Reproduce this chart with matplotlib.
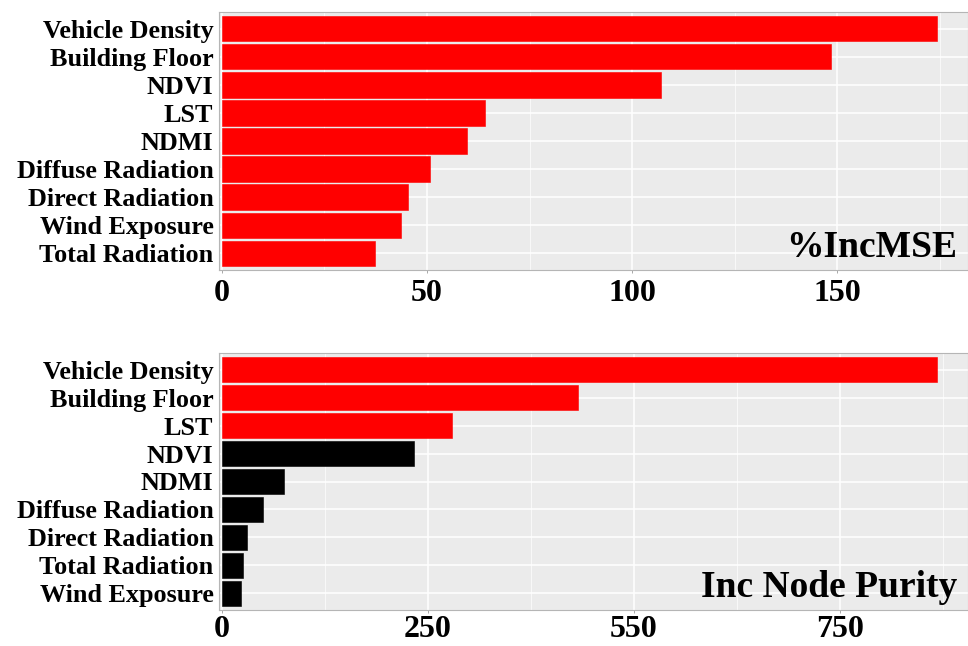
import matplotlib
matplotlib.use("Agg")
import matplotlib.pyplot as plt
from matplotlib.ticker import FixedLocator, FixedFormatter, MultipleLocator

# Variable importance from the random forest model
mse_vars = ["Vehicle Density", "Building Floor", "NDVI", "LST", "NDMI",
            "Diffuse Radiation", "Direct Radiation", "Wind Exposure", "Total Radiation"]
mse_vals = [174.3, 148.3, 106.9, 64.0, 59.7, 50.6, 45.3, 43.6, 37.3]

purity_vars = ["Vehicle Density", "Building Floor", "LST", "NDVI", "NDMI",
               "Diffuse Radiation", "Direct Radiation", "Total Radiation", "Wind Exposure"]
purity_vals = [868, 432, 279, 233, 75, 50, 30, 25.5, 23]
purity_top = 3  # number of leading variables shown in red

mse_ticks = [0, 50, 100, 150]
mse_ticklabels = ["0", "50", "100", "150"]
purity_ticks = [0, 250, 500, 750]
purity_ticklabels = ["0", "250", "550", "750"]

plt.rcParams["font.family"] = ["Liberation Serif", "DejaVu Serif"]
plt.rcParams["font.weight"] = "bold"

fig = plt.figure(figsize=(9.68, 6.46), dpi=100)
W, H = 968, 646


def panel(rect_px, names, vals, colors, ticks, ticklabels, xlim, minor, title,
          tick_pad):
    x0, y0, x1, y1 = rect_px
    ax = fig.add_axes([x0 / W, 1 - y1 / H, (x1 - x0) / W, (y1 - y0) / H])
    ax.set_facecolor("#EBEBEB")
    n = len(names)
    ypos = list(range(n))
    ax.barh(ypos, vals, height=0.9, color=colors, edgecolor=colors,
            linewidth=0.4, zorder=3)
    ax.set_ylim(n - 0.4, -0.6)
    ax.set_xlim(*xlim)
    ax.set_yticks(ypos)
    ax.set_yticklabels(names, fontsize=18.8, fontweight="bold")
    ax.xaxis.set_major_locator(FixedLocator(ticks))
    ax.xaxis.set_major_formatter(FixedFormatter(ticklabels))
    ax.xaxis.set_minor_locator(MultipleLocator(minor))
    for lab in ax.get_xticklabels():
        lab.set_fontsize(23)
        lab.set_fontweight("bold")
    ax.grid(which="major", axis="both", color="white", linewidth=1.1, zorder=1)
    ax.grid(which="minor", axis="x", color="white", linewidth=0.5, zorder=1)
    ax.set_axisbelow(True)
    ax.tick_params(axis="x", which="major", length=2.5, width=0.6,
                   color="#9A9A9A", pad=tick_pad)
    ax.tick_params(axis="x", which="minor", length=0)
    ax.tick_params(axis="y", length=0, pad=4)
    for s in ax.spines.values():
        s.set_color("#B5B5B5")
        s.set_linewidth(0.8)
    ax.text(0.985, 0.05, title, transform=ax.transAxes, ha="right",
            va="baseline", fontsize=27, fontweight="bold", zorder=5)
    return ax


panel((219, 12, 968, 270), mse_vars, mse_vals, ["#FF0000"] * len(mse_vals),
      mse_ticks, mse_ticklabels, (-0.7, 181.8), 25, "%IncMSE", 4)

purity_colors = ["#FF0000" if i < purity_top else "#000000"
                 for i in range(len(purity_vals))]
panel((219, 353, 968, 610), purity_vars, purity_vals, purity_colors,
      purity_ticks, purity_ticklabels, (-3.5, 905.5), 125, "Inc Node Purity", 1)

fig.savefig("out.png", dpi=100)
